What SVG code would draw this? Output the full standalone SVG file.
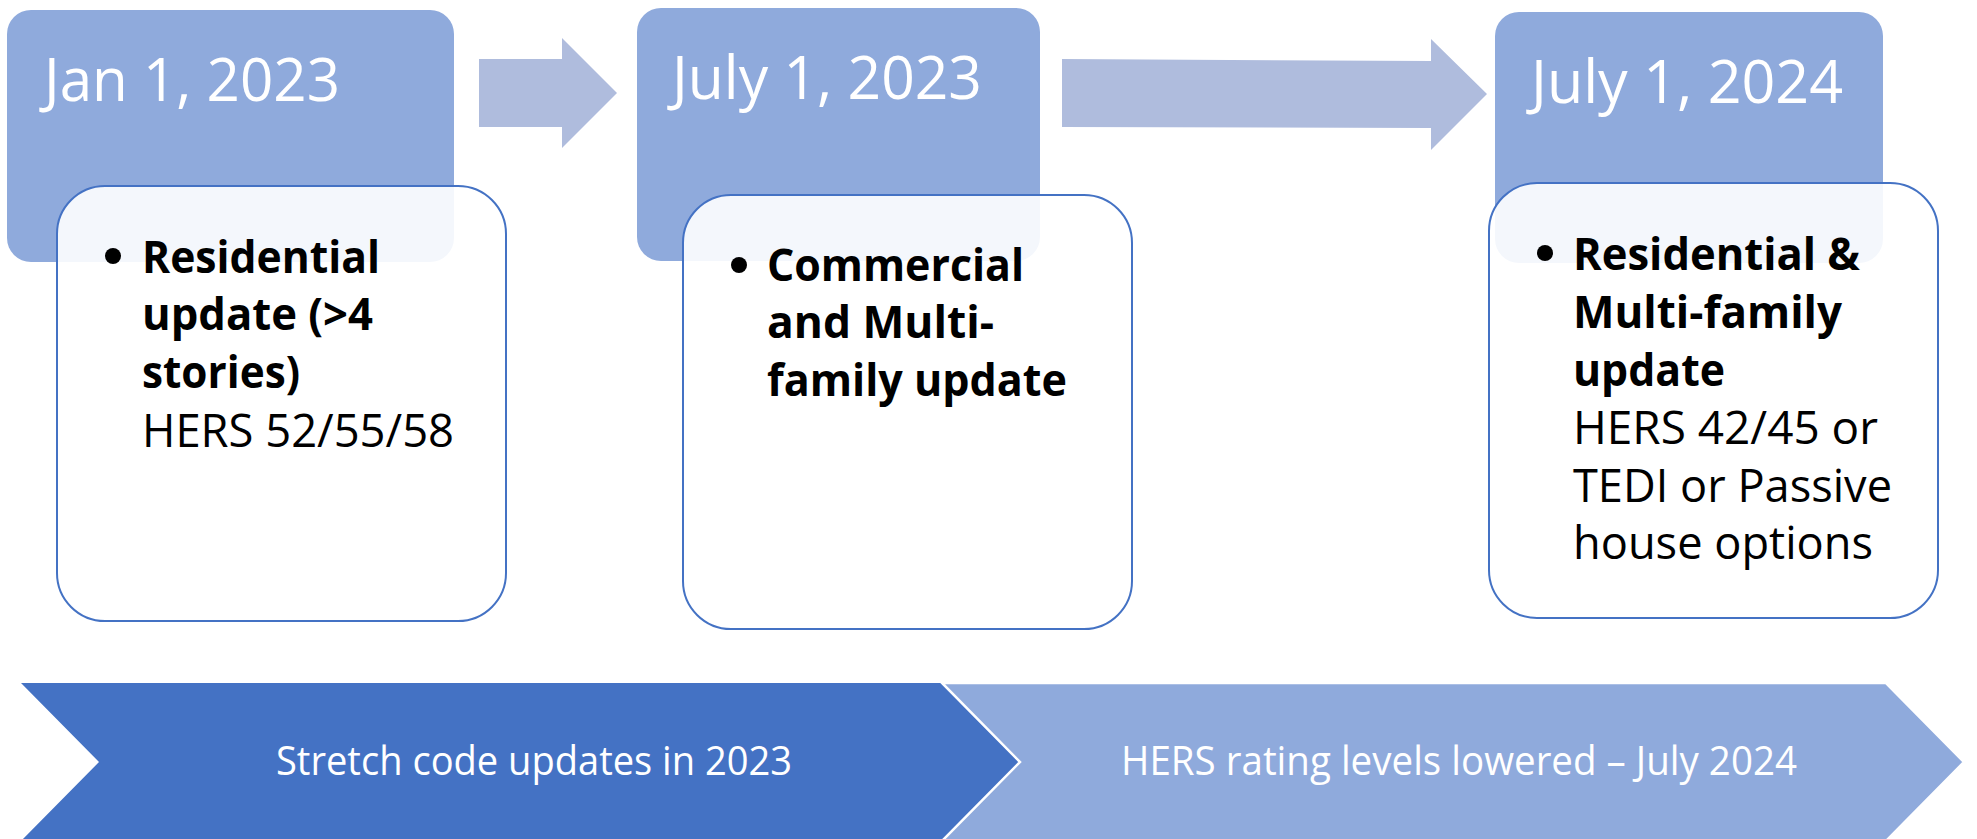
<svg xmlns="http://www.w3.org/2000/svg" width="1977" height="839" viewBox="0 0 1977 839">
  <style>
    .date { fill: #8FAADC; }
    .card { fill: #FFFFFF; fill-opacity: 0.9; stroke: #4472C4; stroke-width: 2; }
    .arrow { fill: #AFBCDD; }
    .dt { font-family: "Open Sans", "Liberation Sans", sans-serif; font-size: 60px; fill: #FFFFFF; }
    .b { font-family: "Open Sans", "Liberation Sans", sans-serif; font-size: 45px; font-weight: 700; fill: #000000; }
    .r { font-family: "Open Sans", "Liberation Sans", sans-serif; font-size: 45px; font-weight: 400; fill: #000000; }
    .bt { font-family: "Open Sans", "Liberation Sans", sans-serif; font-size: 41px; fill: #FFFFFF; }
  </style>
  <rect width="1977" height="839" fill="#FFFFFF"/>

  <g id="connectors">
    <polygon class="arrow" points="479,59 562,59 562,38 617,93 562,148 562,127 479,127"/>
    <polygon class="arrow" points="1062,59 1431,61 1431,39 1487,94 1431,150 1431,128 1062,127"/>
  </g>

  <g id="node-jan-2023">
    <rect class="date" x="7" y="10" width="447" height="252" rx="24"/>
    <text class="dt" x="44" y="101" textLength="296" lengthAdjust="spacingAndGlyphs">Jan 1, 2023</text>
    <rect class="card" x="57" y="186" width="449" height="435" rx="48"/>
    <circle cx="113" cy="256" r="8" fill="#000"/>
    <text class="b" x="142" y="273" textLength="238" lengthAdjust="spacingAndGlyphs">Residential</text>
    <text class="b" x="142" y="330" textLength="231" lengthAdjust="spacingAndGlyphs">update (&gt;4</text>
    <text class="b" x="142" y="388" textLength="158" lengthAdjust="spacingAndGlyphs">stories)</text>
    <text class="r" x="142" y="447" textLength="312" lengthAdjust="spacingAndGlyphs">HERS 52/55/58</text>
  </g>

  <g id="node-july-2023">
    <rect class="date" x="637" y="8" width="403" height="253" rx="24"/>
    <text class="dt" x="672" y="99" textLength="310" lengthAdjust="spacingAndGlyphs">July 1, 2023</text>
    <rect class="card" x="683" y="195" width="449" height="434" rx="48"/>
    <circle cx="739" cy="265" r="8" fill="#000"/>
    <text class="b" x="767" y="281" textLength="257" lengthAdjust="spacingAndGlyphs">Commercial</text>
    <text class="b" x="767" y="338" textLength="227" lengthAdjust="spacingAndGlyphs">and Multi-</text>
    <text class="b" x="767" y="396" textLength="300" lengthAdjust="spacingAndGlyphs">family update</text>
  </g>

  <g id="node-july-2024">
    <rect class="date" x="1495" y="12" width="388" height="251" rx="24"/>
    <text class="dt" x="1531" y="103" textLength="312" lengthAdjust="spacingAndGlyphs">July 1, 2024</text>
    <rect class="card" x="1489" y="183" width="449" height="435" rx="48"/>
    <circle cx="1545" cy="253" r="8" fill="#000"/>
    <text class="b" x="1573" y="270" textLength="287" lengthAdjust="spacingAndGlyphs">Residential &amp;</text>
    <text class="b" x="1573" y="328" textLength="269" lengthAdjust="spacingAndGlyphs">Multi-family</text>
    <text class="b" x="1573" y="386" textLength="152" lengthAdjust="spacingAndGlyphs">update</text>
    <text class="r" x="1573" y="444" textLength="305" lengthAdjust="spacingAndGlyphs">HERS 42/45 or</text>
    <text class="r" x="1573" y="502" textLength="319" lengthAdjust="spacingAndGlyphs">TEDI or Passive</text>
    <text class="r" x="1573" y="559" textLength="300" lengthAdjust="spacingAndGlyphs">house options</text>
  </g>

  <g id="banner-2023">
    <polygon points="21,683 942,683 1020,762 942,841 21,841 99,762" fill="#4472C4"/>
    <text class="bt" x="276" y="775" textLength="516" lengthAdjust="spacingAndGlyphs">Stretch code updates in 2023</text>
  </g>

  <g id="banner-2024">
    <polygon points="942,683 1886,683 1964,762 1886,841 942,841 1020,762" fill="#8FAADC" stroke="#FFFFFF" stroke-width="2.5"/>
    <text class="bt" x="1121" y="775" textLength="676" lengthAdjust="spacingAndGlyphs">HERS rating levels lowered – July 2024</text>
  </g>
</svg>
